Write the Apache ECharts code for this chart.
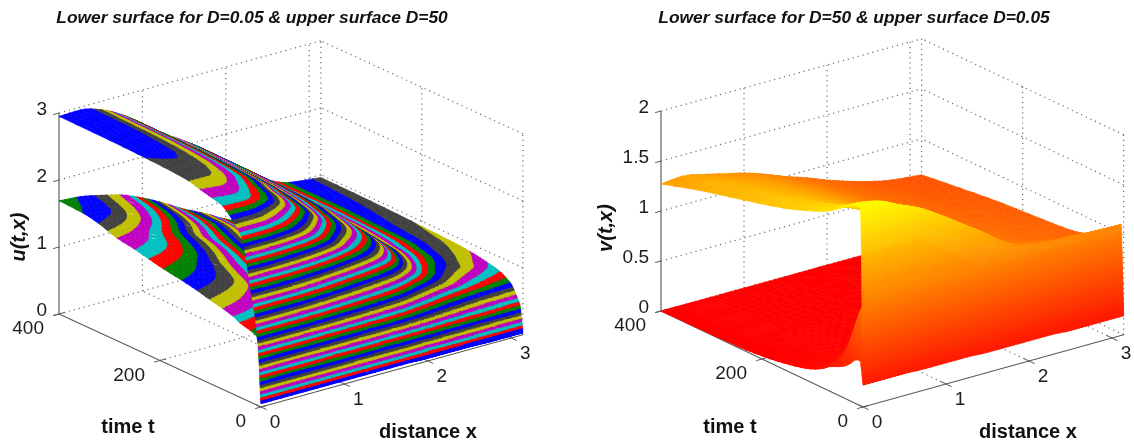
<!DOCTYPE html>
<html><head><meta charset="utf-8">
<style>html,body{margin:0;padding:0;background:#fff}#c{width:1134px;height:446px;filter:blur(.45px)}</style>
<script src="https://cdn.jsdelivr.net/npm/echarts@6/dist/echarts.min.js"></script>
</head><body><div id="c"></div>
<script>
const xTicks=[0,1,2,3];
const tTicks=[0,200,400];
const uTicks=[0,1,2,3];
const vTicks=[0,0.5,1,1.5,2];
const vTickLabels=['0','0.5','1','1.5','2'];
const xMax=3.14, tMax=400;
const titles=['Lower surface for D=0.05 & upper surface D=50','Lower surface for D=50 & upper surface D=0.05'];

const xSamples=[0,.25,.5,.75,1,1.25,1.5,1.75,2,2.25,2.5,2.75,3.14];

const uUpperTimes=[0,1,2,3,4.5,6,10,16,22,28,38,50,61,77,95,121,145,220,300,400];
const uUpper=[
[.05,.05,.05,.05,.05,.05,.05,.05,.04,.04,.04,.03,.03],
[.15,.16,.16,.16,.16,.16,.16,.16,.14,.13,.12,.12,.12],
[.35,.37,.37,.36,.35,.33,.32,.31,.27,.24,.22,.21,.20],
[.53,.55,.55,.53,.50,.48,.46,.43,.37,.33,.30,.28,.27],
[.74,.76,.75,.73,.69,.65,.62,.57,.50,.43,.39,.37,.36],
[.93,.95,.94,.91,.85,.80,.76,.70,.60,.52,.47,.44,.43],
[1.21,1.23,1.21,1.16,1.08,1.01,.94,.86,.74,.63,.57,.52,.50],
[1.50,1.52,1.50,1.43,1.33,1.23,1.14,1.04,.88,.76,.68,.63,.59],
[1.74,1.76,1.72,1.64,1.52,1.39,1.29,1.17,.99,.86,.77,.72,.67],
[2.04,2.05,1.99,1.89,1.74,1.58,1.44,1.30,1.09,.95,.86,.78,.71],
[2.39,2.39,2.32,2.19,2.01,1.81,1.64,1.46,1.22,1.04,.92,.84,.76],
[2.54,2.54,2.47,2.32,2.13,1.92,1.75,1.55,1.30,1.10,.97,.89,.80],
[2.63,2.63,2.55,2.41,2.21,2.00,1.82,1.62,1.35,1.14,1.00,.93,.82],
[2.74,2.75,2.67,2.51,2.31,2.08,1.89,1.68,1.40,1.18,1.04,.95,.845],
[2.78,2.79,2.71,2.56,2.35,2.13,1.93,1.72,1.44,1.21,1.07,.97,.87],
[2.83,2.84,2.76,2.60,2.39,2.17,1.97,1.76,1.47,1.23,1.09,.985,.895],
[2.88,2.88,2.80,2.65,2.43,2.20,2.01,1.79,1.50,1.25,1.11,1.0,.905],
[2.92,2.93,2.85,2.69,2.48,2.25,2.05,1.83,1.53,1.29,1.13,1.01,.93],
[2.94,2.95,2.87,2.71,2.49,2.26,2.06,1.84,1.54,1.30,1.14,1.02,.95],
[2.95,2.96,2.88,2.72,2.50,2.27,2.07,1.85,1.55,1.30,1.14,1.02,.96]];

const uLowerTimes=[0,1,2,4,8,22,42,55,78,101,127,160,193,223,253,285,320,352,400];
const uLower=[
[.05,.05,.05,.05,.05,.05,.05,.05,.04,.04,.04,.03,.03],
[.15,.15,.14,.13,.12,.11,.09,.08,.06,.05,.04,.04,.03],
[.40,.39,.38,.35,.32,.28,.25,.21,.17,.14,.12,.10,.08],
[.75,.74,.71,.66,.60,.53,.47,.40,.32,.26,.22,.19,.16],
[1.02,1.00,.97,.90,.82,.72,.63,.54,.44,.36,.30,.26,.21],
[1.07,1.05,1.02,.94,.86,.76,.66,.57,.46,.37,.31,.27,.22],
[1.11,1.09,1.05,.98,.89,.79,.69,.59,.48,.39,.32,.28,.23],
[1.16,1.14,1.10,1.02,.93,.82,.72,.61,.50,.41,.34,.29,.24],
[1.21,1.19,1.15,1.06,.97,.86,.75,.64,.52,.42,.35,.30,.25],
[1.25,1.23,1.19,1.10,1.00,.89,.78,.66,.54,.44,.36,.31,.26],
[1.30,1.28,1.24,1.14,1.04,.92,.81,.69,.56,.46,.38,.33,.27],
[1.35,1.33,1.28,1.18,1.08,.95,.83,.71,.58,.47,.39,.34,.28],
[1.39,1.37,1.32,1.22,1.11,.99,.86,.74,.60,.49,.40,.35,.29],
[1.44,1.42,1.37,1.27,1.15,1.02,.89,.76,.62,.50,.42,.36,.30],
[1.49,1.47,1.41,1.31,1.19,1.05,.92,.79,.64,.52,.43,.37,.31],
[1.53,1.51,1.45,1.35,1.22,1.09,.95,.81,.66,.54,.44,.38,.32],
[1.62,1.59,1.53,1.43,1.30,1.15,1.00,.86,.70,.57,.47,.41,.34],
[1.67,1.64,1.57,1.48,1.35,1.19,1.04,.89,.72,.58,.48,.42,.35],
[1.69,1.665,1.60,1.52,1.39,1.23,1.05,.90,.73,.60,.49,.43,.36]];

const vUpperTimes=[0,1,2,3,5,10,20,32,50,71,100,158,238,323,400];
const vUpper=[
[.22,.22,.22,.21,.21,.21,.20,.20,.20,.20,.19,.19,.19],
[.57,.57,.56,.52,.50,.47,.44,.41,.39,.38,.37,.37,.37],
[1.02,1.02,.97,.92,.85,.80,.73,.66,.62,.61,.60,.59,.59],
[1.46,1.44,1.38,1.31,1.22,1.12,1.03,.92,.86,.84,.83,.82,.82],
[1.97,1.95,1.87,1.78,1.66,1.52,1.38,1.23,1.14,1.12,1.11,1.10,1.09],
[1.99,1.97,1.88,1.79,1.66,1.52,1.38,1.22,1.13,1.10,1.09,1.07,1.05],
[1.97,1.95,1.86,1.76,1.64,1.49,1.35,1.20,1.10,1.07,1.05,1.02,1.00],
[1.94,1.92,1.83,1.73,1.60,1.46,1.32,1.18,1.08,1.04,1.01,.99,.96],
[1.87,1.86,1.77,1.67,1.55,1.41,1.28,1.14,1.05,1.00,.97,.93,.90],
[1.79,1.78,1.70,1.60,1.49,1.36,1.23,1.10,1.01,.96,.91,.87,.84],
[1.72,1.72,1.64,1.54,1.44,1.32,1.20,1.08,.99,.93,.88,.84,.80],
[1.61,1.61,1.54,1.46,1.37,1.26,1.15,1.04,.96,.90,.85,.81,.77],
[1.50,1.51,1.45,1.38,1.30,1.21,1.11,1.01,.93,.87,.81,.77,.74],
[1.39,1.41,1.36,1.30,1.23,1.15,1.06,.97,.89,.82,.77,.72,.69],
[1.27,1.29,1.25,1.20,1.15,1.08,1.00,.93,.85,.78,.72,.675,.64]];

const vLowerX=[0,.05,.1,.15,.2,.3,.4,.6,1,1.5,3.14];
const vLowerTimes=[0,6,16,24,30,40,56,65,81,105,124,160,200,250,400];
const vLower=[
[.22,.22,.22,.22,.22,.22,.22,.22,.22,.22,.22],
[.45,.55,.75,1.0,1.1,1.15,1.15,1.15,1.1,1.05,1.0],
[.43,.5,.68,.95,1.05,1.1,1.1,1.05,1.0,.95,.9],
[.38,.44,.6,.9,1.0,1.0,1.0,.95,.9,.85,.8],
[.35,.4,.55,.85,.9,.9,.85,.8,.75,.7,.6],
[.31,.35,.47,.68,.7,.68,.6,.55,.5,.45,.4],
[.27,.29,.34,.42,.45,.45,.42,.35,.3,.28,.25],
[.25,.26,.29,.33,.36,.35,.33,.28,.22,.2,.18],
[.19,.2,.21,.22,.23,.21,.2,.16,.13,.12,.1],
[.13,.13,.13,.13,.13,.12,.12,.1,.08,.07,.06],
[.1,.1,.1,.1,.09,.09,.08,.07,.05,.05,.04],
[.06,.06,.06,.06,.05,.05,.05,.04,.03,.03,.02],
[.03,.03,.03,.03,.03,.02,.02,.02,.01,.01,.01],
[.01,.01,.01,.01,.01,.01,.01,.01,0,0,0],
[0,0,0,0,0,0,0,0,0,0,0]];

const FONT='"Liberation Sans",Arial,sans-serif';
const linesMap=['#0000ff','#007f00','#ff0000','#00bfbf','#bf00bf','#bfbf00','#404040'];
const BANDS=64, REFINE_X=4, REFINE_T=3;

// Monotone cubic resampling so the drawn surface is smooth between the read values
function smoothCurve(xs,ys,k){
  const n=xs.length,h=[],d=[],m=new Array(n).fill(0);
  for(let i=0;i<n-1;i++){h[i]=xs[i+1]-xs[i];d[i]=(ys[i+1]-ys[i])/h[i];}
  m[0]=d[0];m[n-1]=d[n-2];
  for(let i=1;i<n-1;i++){
    if(d[i-1]*d[i]>0){const w1=2*h[i]+h[i-1],w2=h[i]+2*h[i-1];m[i]=(w1+w2)/(w1/d[i-1]+w2/d[i]);}
  }
  const out=[];
  for(let i=0;i<n-1;i++)for(let j=0;j<k;j++){
    const s=j/k,s2=s*s,s3=s2*s;
    out.push((2*s3-3*s2+1)*ys[i]+(s3-2*s2+s)*h[i]*m[i]+(-2*s3+3*s2)*ys[i+1]+(s3-s2)*h[i]*m[i+1]);
  }
  out.push(ys[n-1]);
  return out;
}
function subdiv(xs,k){
  const out=[];
  for(let i=0;i<xs.length-1;i++)for(let j=0;j<k;j++)out.push(xs[i]+(xs[i+1]-xs[i])*j/k);
  out.push(xs[xs.length-1]);return out;
}
function refined(xs,ts,zs){
  const cols=xs.map((_,c)=>smoothCurve(ts,zs.map(r=>r[c]),REFINE_T));
  const rows=cols[0].map((_,r)=>smoothCurve(xs,cols.map(col=>col[r]),REFINE_X));
  return {xs:subdiv(xs,REFINE_X),ts:subdiv(ts,REFINE_T),zs:rows};
}

const views=[
 {left:59,top:41,width:464,height:366,ax:83.4,at:.505,qx:23,qt:.2325,qz:67,pMin:-202,pMax:262,qMax:366,
  zMax:2.97,zTicks:uTicks,zLabels:uTicks.map(String),
  color:i=>linesMap[(i===1?0:i)%7],
  surfaces:[refined(xSamples,uLowerTimes,uLower),refined(xSamples,uUpperTimes,uUpper)]},
 {left:661,top:39,width:463,height:368,ax:83,at:.505,qx:23,qt:.24,qz:100,pMin:-202,pMax:261,qMax:368,
  zMax:2.05,zTicks:vTicks,zLabels:vTickLabels,
  color:i=>'rgb(255,'+Math.round(i/63*255)+',0)',
  surfaces:[refined(vLowerX,vLowerTimes,vLower),refined(xSamples,vUpperTimes,vUpper)]}
];
function project(v,x,t,z){return [v.ax*x-v.at*t, v.qx*x+v.qt*t+v.qz*z];}

function clip(poly,level,keepAbove){
  const out=[];
  for(let i=0;i<poly.length;i++){
    const a=poly[i],b=poly[(i+1)%poly.length];
    const ia=keepAbove?a[2]>=level:a[2]<=level, ib=keepAbove?b[2]>=level:b[2]<=level;
    if(ia)out.push(a);
    if(ia!==ib){const k=(level-a[2])/(b[2]-a[2]);
      out.push([a[0]+(b[0]-a[0])*k,a[1]+(b[1]-a[1])*k,level]);}
  }
  return out;
}
function trianglePieces(v,tri,api,children){
  const step=v.zMax/BANDS;
  const zs=tri.map(p=>p[2]);
  const lo=Math.max(0,Math.floor(Math.min(...zs)/step));
  const hi=Math.min(BANDS-1,Math.floor(Math.max(...zs)/step));
  for(let i=lo;i<=hi;i++){
    let poly=tri;
    if(i>0)poly=clip(poly,i*step,true);
    if(poly.length&&i<BANDS-1)poly=clip(poly,(i+1)*step,false);
    if(poly.length<3)continue;
    const pts=poly.map(p=>api.coord(project(v,p[0],p[1],p[2])));
    const col=v.color(i);
    children.push({type:'polygon',shape:{points:pts},style:{fill:col,stroke:col,lineWidth:.6,lineJoin:'round'}});
  }
}
function surfaceCells(v){
  const cells=[];
  v.surfaces.forEach(s=>{
    for(let ti=s.ts.length-2;ti>=0;ti--)
      for(let xi=s.xs.length-2;xi>=0;xi--)
        cells.push({s,xi,ti});
  });
  return cells;
}
function guideLines(v){
  const L=[], d=(a,b)=>L.push({a,b,kind:'grid'});
  const zTop=v.zTicks[v.zTicks.length-1];
  xTicks.concat([xMax]).forEach(x=>{ if(x>0){
    d([x,0,0],[x,tMax,0]);
    d([x,tMax,0],[x,tMax,zTop]);
  }});
  tTicks.forEach(t=>{ if(t>0) d([0,t,0],[xMax,t,0]); });
  tTicks.forEach(t=>{ if(t<tMax) d([xMax,t,0],[xMax,t,zTop]); });
  v.zTicks.forEach(z=>{ if(z>0){ d([0,tMax,z],[xMax,tMax,z]); d([xMax,0,z],[xMax,tMax,z]); }});
  L.push({a:[0,tMax,0],b:[0,tMax,zTop],kind:'zaxis'});
  L.push({a:[0,0,0],b:[0,tMax,0],kind:'axis'});
  L.push({a:[0,0,0],b:[xMax,0,0],kind:'axis'});
  v.zTicks.forEach(z=>L.push({a:[-.07,tMax,z],b:[0,tMax,z],kind:'tick'}));
  tTicks.forEach(t=>L.push({a:[-.07,t,0],b:[.07,t,0],kind:'tick'}));
  xTicks.forEach(x=>L.push({a:[x,-11,0],b:[x,11,0],kind:'tick'}));
  return L;
}
function tickTexts(v){
  const T=[];
  v.zTicks.forEach((z,i)=>T.push({p:[0,tMax,z],text:v.zLabels[i],dx:-12,dy:-3,align:'right'}));
  tTicks.forEach(t=>T.push({p:[0,t,0],text:String(t),dx:-15,dy:15,align:'right'}));
  xTicks.forEach(x=>T.push({p:[x,0,0],text:String(x),dx:14,dy:16,align:'center'}));
  return T;
}
const styleOf={
 grid:{stroke:'#6a6a6a',lineWidth:1.2,lineDash:[1.2,3.9]},
 zaxis:{stroke:'#808080',lineWidth:1.5},
 axis:{stroke:'#5a5a5a',lineWidth:1.1},
 tick:{stroke:'#5a5a5a',lineWidth:1}
};
const series=[];
views.forEach((v,n)=>{
  const base={type:'custom',coordinateSystem:'cartesian2d',xAxisIndex:n,yAxisIndex:n,clip:false,silent:true,animation:false,progressive:0};
  const guides=guideLines(v);
  series.push(Object.assign({},base,{name:'guides'+n,data:guides.map((_,i)=>[i,0]),
    renderItem(params,api){
      const g=guides[params.dataIndex];
      const a=api.coord(project(v,...g.a)),b=api.coord(project(v,...g.b));
      return {type:'line',shape:{x1:a[0],y1:a[1],x2:b[0],y2:b[1]},style:styleOf[g.kind]};
    }}));
  const cells=surfaceCells(v);
  series.push(Object.assign({},base,{name:'surface'+n,data:cells.map((_,i)=>[i,0]),
    renderItem(params,api){
      const c=cells[params.dataIndex],s=c.s,x0=s.xs[c.xi],x1=s.xs[c.xi+1],t0=s.ts[c.ti],t1=s.ts[c.ti+1];
      const z00=s.zs[c.ti][c.xi],z10=s.zs[c.ti][c.xi+1],z01=s.zs[c.ti+1][c.xi],z11=s.zs[c.ti+1][c.xi+1];
      const children=[];
      trianglePieces(v,[[x1,t0,z10],[x1,t1,z11],[x0,t1,z01]],api,children);
      trianglePieces(v,[[x0,t0,z00],[x1,t0,z10],[x0,t1,z01]],api,children);
      return {type:'group',children};
    }}));
  const texts=tickTexts(v);
  series.push(Object.assign({},base,{name:'ticks'+n,data:texts.map((_,i)=>[i,0]),
    renderItem(params,api){
      const t=texts[params.dataIndex],c=api.coord(project(v,...t.p));
      return {type:'text',x:c[0]+t.dx,y:c[1]+t.dy,style:{text:t.text,fill:'#1c1c1c',font:'19px '+FONT,align:t.align,verticalAlign:'middle'}};
    }}));
});
const axisOff={show:false,type:'value'};
const label=(text,x,y,rot,italic)=>({type:'text',x,y,rotation:rot||0,z:10,
  style:{text,fill:'#111',font:(italic?'italic ':'')+'bold 20px '+FONT,align:'center',verticalAlign:'middle'}});
const chart=echarts.init(document.getElementById('c'),null,{renderer:'canvas'});
const titleStyle={fontFamily:FONT,fontWeight:'bold',fontStyle:'italic',fontSize:17.4,color:'#111'};
chart.setOption({
  animation:false,backgroundColor:'#fff',
  title:[
   {text:titles[0],left:247,top:5,textAlign:'center',textStyle:titleStyle},
   {text:titles[1],left:849,top:5,textAlign:'center',textStyle:titleStyle}],
  grid:views.map(v=>({left:v.left,top:v.top,width:v.width,height:v.height,containLabel:false})),
  xAxis:views.map((v,i)=>Object.assign({},axisOff,{gridIndex:i,min:v.pMin,max:v.pMax})),
  yAxis:views.map((v,i)=>Object.assign({},axisOff,{gridIndex:i,min:0,max:v.qMax})),
  series,
  graphic:[
   label('time t',128,427),label('distance x',428,432),label('u(t,x)',19,237,Math.PI/2,true),
   label('time t',730,427),label('distance x',1028,432),label('v(t,x)',606,228,Math.PI/2,true)]
});
</script></body></html>
